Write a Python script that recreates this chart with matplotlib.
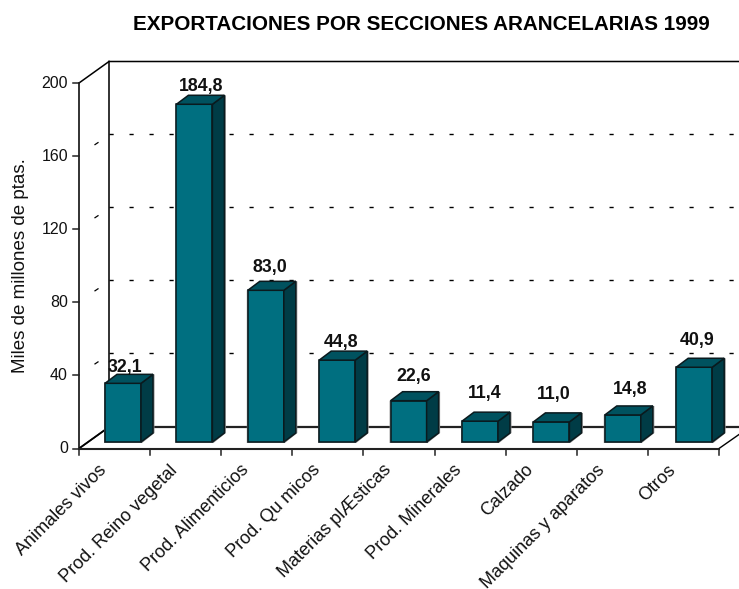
import matplotlib
matplotlib.use("Agg")
import matplotlib.pyplot as plt
from matplotlib.patches import Polygon

categories = ["Animales vivos", "Prod. Reino vegetal", "Prod. Alimenticios", "Prod. Qu micos",
              "Materias plÆsticas", "Prod. Minerales", "Calzado", "Maquinas y aparatos", "Otros"]
values = [32.1, 184.8, 83.0, 44.8, 22.6, 11.4, 11.0, 14.8, 40.9]
value_labels = ["32,1", "184,8", "83,0", "44,8", "22,6", "11,4", "11,0", "14,8", "40,9"]
y_ticks = [0, 40, 80, 120, 160, 200]

W, H = 739, 589
PX_X = 640 / 9      # pixels per category
PX_Y = 365.5 / 200  # pixels per value unit
X0, Y0 = 79, 448.5  # front corner of the floor, in pixels

FRONT = "#006f80"
TOP = "#00525f"
SIDE = "#003c46"

plt.rcParams["font.family"] = ["Liberation Sans", "DejaVu Sans"]

fig = plt.figure(figsize=(W / 100, H / 100), dpi=100)
ax = fig.add_axes([0, 0, 1, 1])
ax.set_xlim(-X0 / PX_X, (W - X0) / PX_X)
ax.set_ylim(-(H - Y0) / PX_Y, Y0 / PX_Y)
ax.axis("off")


# offset in pixels -> data units, so the 3d look stays simple
def dx(px):
    return px / PX_X


def dy(px):
    return px / PX_Y


wall_x, wall_y = dx(30), dy(21.5)

# walls and floor
ax.plot([0, 0, wall_x, wall_x], [200, 0, wall_y, 200 + wall_y], color="#222222", lw=1.3)
ax.plot([0, wall_x, 9 + wall_x], [200, 200 + wall_y, 200 + wall_y], color="black", lw=1.1)
ax.plot([0, wall_x], [0, wall_y], color="black", lw=1.1)
ax.plot([0, 9], [0, 0], color="#222222", lw=1.5)
ax.plot([9, 9 + dx(20)], [0, dy(14)], color="black", lw=1.0)
ax.plot([wall_x, 9 + wall_x], [wall_y, wall_y], color="#222222", lw=1.6)

# dashed grid on the back wall, one dash shows on the side wall
for v in y_ticks[1:-1]:
    gy = v + wall_y + dy(1)
    ax.plot([wall_x, 9 + wall_x], [gy, gy], color="black", lw=1.0,
            dashes=(3, 11.4), dash_capstyle="butt")
    ax.plot([dx(16), dx(19)], [v + dy(11.5), v + dy(13.5)], color="black", lw=0.9)

# ticks
for v in y_ticks:
    ax.plot([-dx(6), 0], [v, v], color="#222222", lw=1.1)
    ax.text(-dx(11), v, str(v), ha="right", va="center", fontsize=11.5, color="#111111")
for i in range(10):
    ax.plot([i, i], [0, -dy(6)], color="#222222", lw=1.1)

# bars
bar_left = 26 / PX_X
bar_step = 71.4 / PX_X
bar_w = 36 / PX_X
bar_bottom = dy(6.5)
depth_x, depth_y = dx(12), dy(9)
label_dx = [2, 7, 4, 4, 5, 5, 2, 7, 3]
label_dy = [16, 18, 23, 18, 24, 28, 27, 25, 27]

for i, v in enumerate(values):
    x0 = i * bar_step + bar_left
    x1 = x0 + bar_w
    y0 = bar_bottom
    y1 = bar_bottom + v
    # thin grey shadow round the box
    ax.add_patch(Polygon([(x0 - dx(1), y0 - dy(1)), (x1 + dx(1), y0 - dy(1)),
                          (x1 + depth_x + dx(1.5), y0 + depth_y), (x1 + depth_x + dx(1.5), y1 + depth_y),
                          (x0 - dx(1), y1)], fc="#8c8c8c", ec="none", zorder=4))
    ax.add_patch(Polygon([(x0, y0), (x1, y0), (x1, y1), (x0, y1)], fc=FRONT, ec="#0a1a1e", lw=1.1, zorder=5))
    ax.add_patch(Polygon([(x1, y0), (x1 + depth_x, y0 + depth_y), (x1 + depth_x, y1 + depth_y), (x1, y1)],
                         fc=SIDE, ec="#0a1a1e", lw=1.1, zorder=5))
    ax.add_patch(Polygon([(x0, y1), (x1, y1), (x1 + depth_x, y1 + depth_y), (x0 + depth_x, y1 + depth_y)],
                         fc=TOP, ec="#0a1a1e", lw=1.1, zorder=5))
    ax.text((x0 + x1) / 2 + dx(label_dx[i]), y1 + dy(label_dy[i]), value_labels[i],
            ha="center", va="center", fontsize=12.8, fontweight="bold", color="#111111", zorder=6)

# category labels, rotated, ending under the tick gap
for i, name in enumerate(categories):
    ax.text(i + dx(19), -dy(13), name, rotation=45, rotation_mode="anchor", ha="right", va="top",
            fontsize=13, color="#111111")

ax.text(-dx(58), 100, "Miles de millones de ptas.", rotation=90, ha="center", va="center",
        fontsize=13.5, color="#111111")

fig.text(421 / W, 1 - 25 / H, "EXPORTACIONES POR SECCIONES ARANCELARIAS 1999",
         ha="center", va="center", fontsize=14.9, fontweight="bold", color="black")

fig.savefig("out.png", dpi=100)
